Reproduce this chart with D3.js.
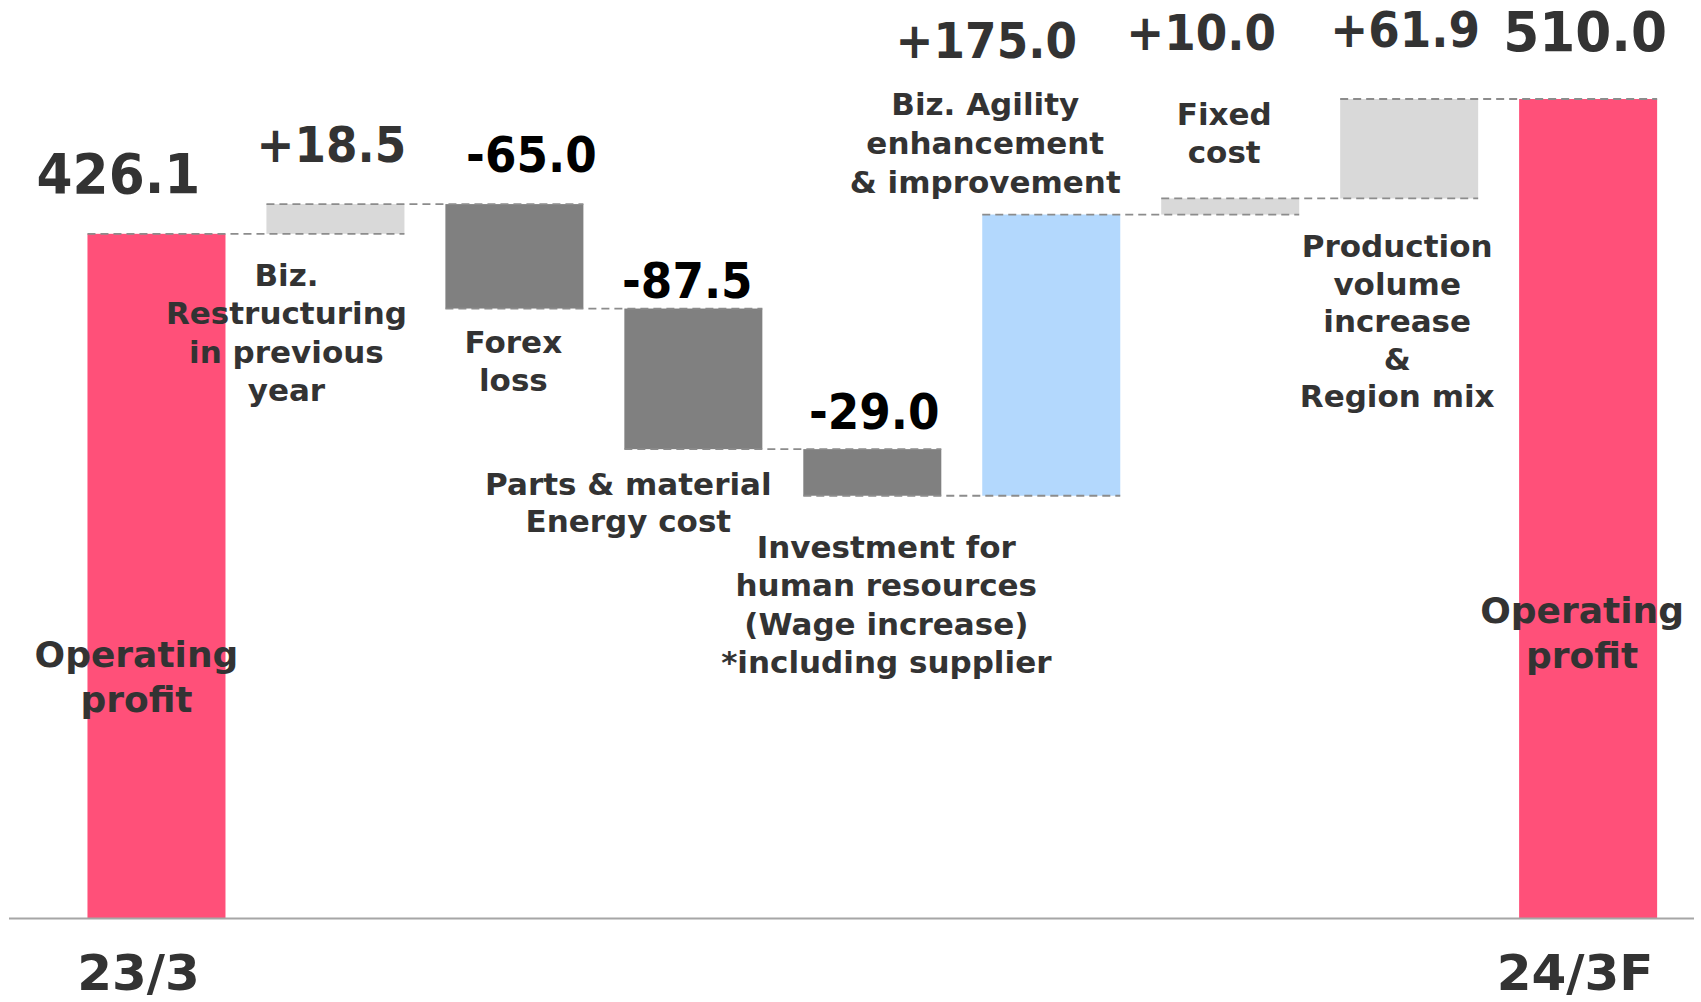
<!DOCTYPE html>
<html>
<head>
<meta charset="utf-8">
<script src="https://cdn.jsdelivr.net/npm/d3@7"></script>
<style>
  body { margin: 0; background: #fff; }
  svg { display: block; }
  text { font-family: "DejaVu Sans", Verdana, sans-serif; font-weight: bold; }
</style>
</head>
<body>
<svg width="1701" height="1002"></svg>
<script>
// waterfall data (operating profit bridge)
var categories = ["23/3", "restructuring", "forex", "parts", "wage", "agility", "fixed", "volume", "24/3F"];
var values = [426.1, 18.5, -65.0, -87.5, -29.0, 175.0, 10.0, 61.9, 510.0];
var isTotal = [true, false, false, false, false, false, false, false, true];
var valueLabels = ["426.1", "+18.5", "-65.0", "-87.5", "-29.0", "+175.0", "+10.0", "+61.9", "510.0"];
var categoryLines = [
  ["Operating", "profit"],
  ["Biz.", "Restructuring", "in previous", "year"],
  ["Forex", "loss"],
  ["Parts & material", "Energy cost"],
  ["Investment for", "human resources", "(Wage increase)", "*including supplier"],
  ["Biz. Agility", "enhancement", "& improvement"],
  ["Fixed", "cost"],
  ["Production", "volume", "increase", "&", "Region mix"],
  ["Operating", "profit"]
];
var tickLabels = ["23/3", "24/3F"];

// styles / layout
var barColors = ["#FF5079", "#D9D9D9", "#808080", "#808080", "#808080", "#B3D8FD", "#D9D9D9", "#D9D9D9", "#FF5079"];
var valueColors = ["#333", "#333", "#000", "#000", "#000", "#333", "#333", "#333", "#333"];
var valueOffset = [[-38, 41], [-4, 42], [17, 32], [-6, 11], [2, 20], [-65, 157], [-29, 148], [-4, 52], [-3, 48]];
var catDx = [-20, -49, -1, -65, 14, -66, -6, -12, -6];
var catY = [667, 286, 353, 495, 558, 115, 125, 257, 623];
var catLineH = [45, 38.3, 38, 37, 38.3, 39, 38, 37.5, 45];

var svg = d3.select("svg");

// running levels
var rows = [];
var level = 0;
values.forEach(function(v, i) {
  var start = isTotal[i] ? 0 : level;
  var end = isTotal[i] ? v : level + v;
  level = end;
  rows.push({cat: categories[i], start: start, end: end, i: i});
});

var x = d3.scaleBand().domain(categories).range([67, 1677.6]).paddingInner(0.2288).paddingOuter(0.1144);
var y = d3.scaleLinear().domain([0, 510]).range([918.5, 99]);

// bars
svg.selectAll("rect.bar").data(rows).enter().append("rect")
  .attr("class", "bar")
  .attr("x", function(d) { return x(d.cat); })
  .attr("width", x.bandwidth())
  .attr("y", function(d) { return y(Math.max(d.start, d.end)); })
  .attr("height", function(d) { return Math.abs(y(d.start) - y(d.end)); })
  .style("fill", function(d) { return barColors[d.i]; });

// dashed connectors
svg.selectAll("line.conn").data(rows.slice(0, rows.length - 1)).enter().append("line")
  .attr("class", "conn")
  .attr("x1", function(d) { return x(d.cat); })
  .attr("x2", function(d) { return x(categories[d.i + 1]) + x.bandwidth(); })
  .attr("y1", function(d) { return y(d.end); })
  .attr("y2", function(d) { return y(d.end); })
  .style("stroke", "#8C8C8C")
  .style("stroke-width", "1.8px")
  .style("stroke-dasharray", "8,5");

// baseline
svg.append("line")
  .attr("x1", 9).attr("x2", 1694)
  .attr("y1", y(0)).attr("y2", y(0))
  .style("stroke", "#A6A6A6").style("stroke-width", "2px");

// value labels
svg.selectAll("text.val").data(rows).enter().append("text")
  .attr("class", "val")
  .attr("transform", function(d) {
    var cx = x(d.cat) + x.bandwidth() / 2 + valueOffset[d.i][0];
    var cy = y(Math.max(d.start, d.end)) - valueOffset[d.i][1];
    return "translate(" + cx + "," + cy + ") scale(0.925,1)";
  })
  .attr("text-anchor", "middle")
  .style("font-size", function(d) { return isTotal[d.i] ? "56px" : "49px"; })
  .style("fill", function(d) { return valueColors[d.i]; })
  .text(function(d) { return valueLabels[d.i]; });

// category labels
rows.forEach(function(d) {
  var t = svg.append("text")
    .attr("text-anchor", "middle")
    .style("font-size", isTotal[d.i] ? "36px" : "31px")
    .style("fill", "#333");
  categoryLines[d.i].forEach(function(line, k) {
    t.append("tspan")
      .attr("x", x(d.cat) + x.bandwidth() / 2 + catDx[d.i])
      .attr("y", catY[d.i] + k * catLineH[d.i])
      .text(line);
  });
});

// period axis
var axis = svg.append("g")
  .attr("transform", "translate(0," + y(0) + ")")
  .call(d3.axisBottom(x)
    .tickValues([categories[0], categories[categories.length - 1]])
    .tickSize(0)
    .tickFormat(function(c, k) { return tickLabels[k]; }));
axis.select(".domain").remove();
axis.selectAll("text")
  .attr("y", 71.5).attr("dy", 0)
  .attr("dx", function(c, k) { return k === 0 ? -18 : -13; })
  .style("font-family", "'DejaVu Sans', Verdana, sans-serif")
  .style("font-weight", "bold")
  .style("font-size", "50px")
  .style("fill", "#333");
</script>
</body>
</html>
